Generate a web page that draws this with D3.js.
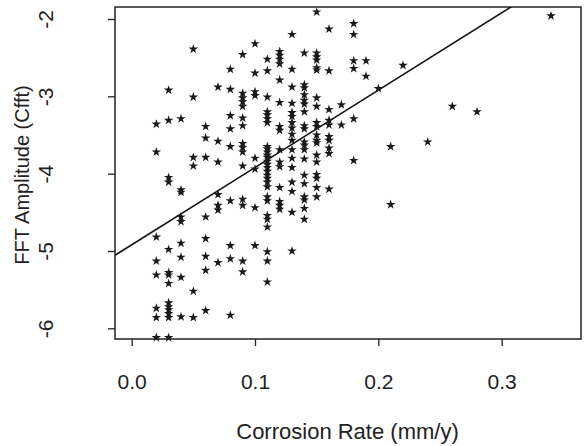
<!DOCTYPE html>
<html>
<head>
<meta charset="utf-8">
<script src="https://cdn.jsdelivr.net/npm/d3@7"></script>
<style>
  body { margin: 0; background: #fff; }
  svg { display: block; font-family: "Liberation Sans", Arial, sans-serif; }
</style>
</head>
<body>
<div class="scatterchart"></div>
<script>
// corrosion rate columns (mm/y)
const rates = [0.02, 0.03, 0.04, 0.05, 0.06, 0.07, 0.08, 0.09, 0.10, 0.11, 0.12, 0.13,
  0.14, 0.15, 0.16, 0.17, 0.18, 0.19, 0.20, 0.21, 0.22, 0.24, 0.26, 0.28, 0.34];

// FFT amplitude readings for each rate column
const amplitudes = [
  [-3.36, -3.72, -4.82, -5.13, -5.31, -5.74, -5.86, -6.12],
  [-2.92, -3.31, -4.05, -4.11, -4.98, -5.28, -5.31, -5.42, -5.67, -5.72, -5.76, -5.81, -5.86, -6.12],
  [-3.29, -4.21, -4.24, -4.56, -4.62, -4.90, -5.08, -5.34, -5.85],
  [-2.39, -3.01, -3.79, -3.90, -5.52, -5.86],
  [-3.39, -3.54, -3.79, -4.56, -4.84, -5.07, -5.25, -5.77],
  [-2.88, -3.58, -3.85, -4.27, -4.41, -4.47, -5.15],
  [-2.65, -2.91, -3.25, -3.42, -3.65, -4.35, -4.93, -5.10, -5.83],
  [-2.46, -2.96, -3.02, -3.07, -3.13, -3.28, -3.38, -3.61, -3.66, -3.72, -3.90, -4.33, -4.41, -5.13, -5.27],
  [-2.32, -2.70, -2.94, -2.99, -3.80, -3.94, -4.44, -4.93],
  [-2.52, -2.67, -3.01, -3.20, -3.24, -3.29, -3.34, -3.65, -3.68, -3.72, -3.76, -3.79, -3.84, -3.88,
   -3.92, -3.97, -4.02, -4.06, -4.11, -4.17, -4.30, -4.35, -4.54, -4.59, -4.69, -5.01, -5.13, -5.40],
  [-2.42, -2.47, -2.52, -2.58, -2.79, -3.08, -3.39, -3.44, -3.69, -3.85, -3.91, -4.18, -4.36, -4.41, -4.46],
  [-2.20, -2.65, -2.88, -3.09, -3.21, -3.26, -3.34, -3.41, -3.49, -3.57, -3.69, -3.80, -3.92, -4.11,
   -4.23, -4.50, -5.00],
  [-2.44, -2.85, -2.89, -2.98, -3.05, -3.10, -3.20, -3.38, -3.42, -3.59, -3.63, -3.69, -3.81, -4.02,
   -4.13, -4.30, -4.34, -4.45, -4.59],
  [-1.91, -2.44, -2.49, -2.53, -2.63, -2.66, -3.02, -3.13, -3.34, -3.39, -3.50, -3.57, -3.60, -3.76,
   -3.85, -4.01, -4.06, -4.18, -4.30],
  [-2.13, -2.67, -3.17, -3.31, -3.37, -3.52, -3.57, -3.67, -3.74, -4.20],
  [-3.11, -3.37],
  [-2.06, -2.20, -2.54, -2.64, -3.29, -3.83],
  [-2.54, -2.74],
  [-2.90],
  [-3.65, -4.40],
  [-2.60],
  [-3.59],
  [-3.13],
  [-3.20],
  [-1.96]
];

// fitted line: amplitude = intercept + slope * rate
const fitIntercept = -4.92;
const fitSlope = 10.0;

const xTicks = [0.0, 0.1, 0.2, 0.3];
const yTicks = [-2, -3, -4, -5, -6];

const margin = {top: 7, right: 5, bottom: 107, left: 115},
    width = 586 - margin.left - margin.right,
    height = 446 - margin.top - margin.bottom;

const svg = d3.select(".scatterchart")
  .append("svg")
    .attr("width", width + margin.left + margin.right)
    .attr("height", height + margin.top + margin.bottom)
  .append("g")
    .attr("transform", "translate(" + margin.left + "," + margin.top + ")");

const x = d3.scaleLinear()
  .domain([-0.0135, 0.3643])
  .range([0, width]);

const y = d3.scaleLinear()
  .domain([-6.138, -1.845])
  .range([height, 0]);

// X axis
const xAxis = svg.append("g")
  .attr("transform", "translate(0," + height + ")")
  .call(d3.axisBottom(x).tickValues(xTicks).tickSize(7).tickFormat(d3.format(".1f")));
xAxis.selectAll("text")
  .attr("y", 50)
  .attr("dy", 0)
  .style("font-size", "21px")
  .attr("fill", "#222");

// Y axis, labels turned sideways
const yAxis = svg.append("g")
  .call(d3.axisLeft(y).tickValues(yTicks).tickSize(7).tickFormat(d => String(d)));
yAxis.selectAll("text")
  .attr("transform", "rotate(-90)")
  .attr("x", 0)
  .attr("y", -62)
  .attr("dy", 0)
  .attr("text-anchor", "middle")
  .style("font-size", "21px")
  .attr("fill", "#222");

svg.selectAll(".domain").remove();
svg.selectAll(".tick line").attr("stroke", "#222").attr("stroke-width", 1.3);

// box round the plot
svg.append("rect")
  .attr("width", width)
  .attr("height", height)
  .attr("fill", "none")
  .attr("stroke", "#222")
  .attr("stroke-width", 1.5);

svg.append("text")
  .attr("text-anchor", "middle")
  .attr("transform", "rotate(-90)")
  .attr("x", -(height / 2) - 2)
  .attr("y", -86)
  .attr("fill", "#222")
  .style("font-size", "20px")
  .text("FFT Amplitude (Cfft)");

svg.append("text")
  .attr("text-anchor", "middle")
  .attr("x", x(0.175))
  .attr("y", height + 100)
  .attr("fill", "#222")
  .style("font-size", "22px")
  .text("Corrosion Rate (mm/y)");

svg.append("clipPath")
    .attr("id", "plotclip")
  .append("rect")
    .attr("width", width)
    .attr("height", height);

// regression line
const fitEnds = x.domain();
svg.append("line")
  .attr("clip-path", "url(#plotclip)")
  .attr("x1", x(fitEnds[0]))
  .attr("y1", y(fitIntercept + fitSlope * fitEnds[0]))
  .attr("x2", x(fitEnds[1]))
  .attr("y2", y(fitIntercept + fitSlope * fitEnds[1]))
  .attr("stroke", "#111")
  .attr("stroke-width", 1.6);

// star points
const points = [];
rates.forEach((r, i) => amplitudes[i].forEach(a => points.push({rate: r, amp: a})));

const star = d3.symbol().type(d3.symbolStar).size(28);
svg.append("g")
  .selectAll("path")
  .data(points)
  .enter()
  .append("path")
    .attr("d", star)
    .attr("transform", d => "translate(" + x(d.rate) + "," + y(d.amp) + ")")
    .style("fill", "#1a1a1a");
</script>
</body>
</html>
